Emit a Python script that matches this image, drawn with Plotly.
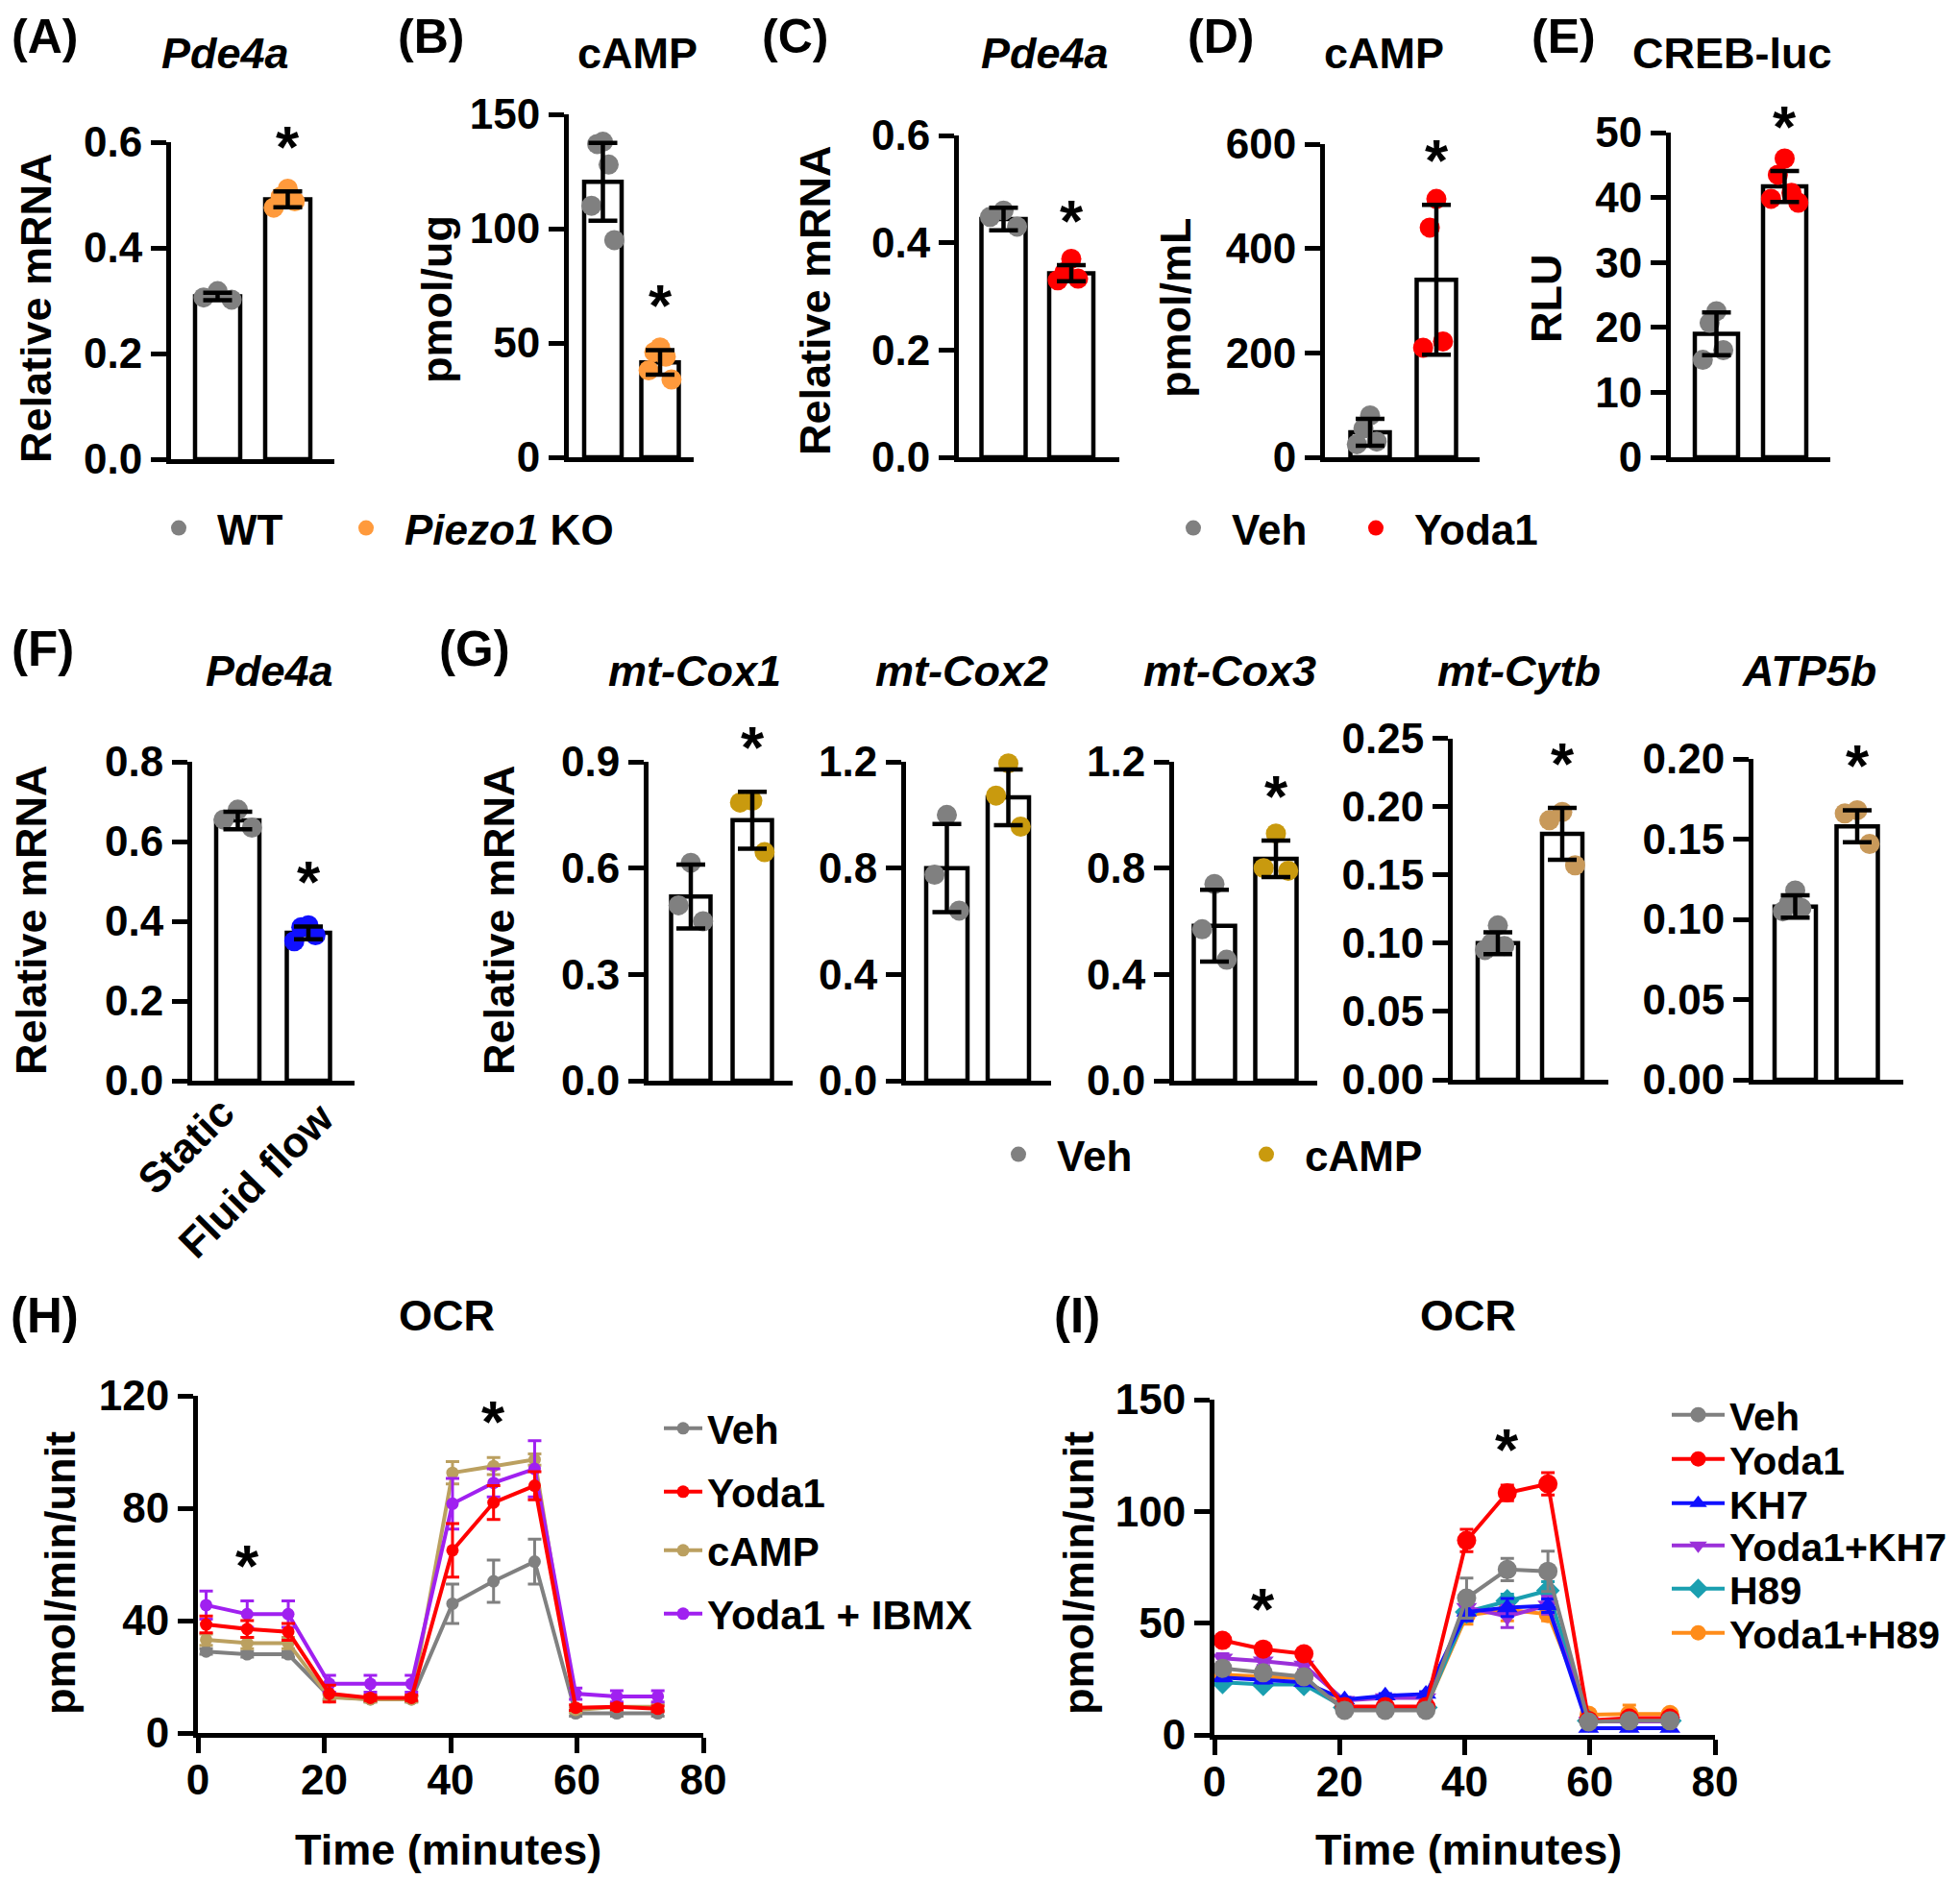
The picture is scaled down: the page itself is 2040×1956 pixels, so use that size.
import numpy as np
import plotly.graph_objects as go

W, H = 2040, 1956
FONT = "Liberation Sans"

# ===================== DATA =====================
# (A) Pde4a  WT vs Piezo1 KO
A_means = [0.308, 0.492]
A_sd = [0.007, 0.015]
A_wt = [0.318, 0.306, 0.302]
A_ko = [0.512, 0.497, 0.488, 0.476]
A_ticks = [0, 0.2, 0.4, 0.6]
# (B) cAMP  WT vs Piezo1 KO
B_means = [120.5, 41.5]
B_sd = [17.0, 5.4]
B_wt = [138, 137, 128, 110, 95]
B_ko = [48, 46, 44, 38, 34]
B_ticks = [0, 50, 100, 150]
# (C) Pde4a  Veh vs Yoda1
C_means = [0.444, 0.343]
C_sd = [0.021, 0.015]
C_veh = [0.46, 0.448, 0.43]
C_yoda = [0.37, 0.345, 0.333, 0.33]
C_ticks = [0, 0.2, 0.4, 0.6]
# (D) cAMP  Veh vs Yoda1
D_means = [48, 340]
D_sd = [25.7, 143.6]
D_veh = [80, 55, 30, 25]
D_yoda = [495, 440, 222, 210]
D_ticks = [0, 200, 400, 600]
# (E) CREB-luc  Veh vs Yoda1
E_means = [19.0, 41.7]
E_sd = [3.3, 2.4]
E_veh = [22.5, 20.7, 16.5, 15.0]
E_yoda = [46.0, 43.5, 40.7, 39.8, 39.2]
E_ticks = [0, 10, 20, 30, 40, 50]
# (F) Pde4a  Static vs Fluid flow
F_categories = ["Static", "Fluid flow"]
F_means = [0.653, 0.371]
F_sd = [0.022, 0.016]
F_static = [0.68, 0.655, 0.635]
F_flow = [0.39, 0.385, 0.365, 0.35]
F_ticks = [0, 0.2, 0.4, 0.6, 0.8]
# (G) Veh vs cAMP
G_genes = ["mt-Cox1", "mt-Cox2", "mt-Cox3", "mt-Cytb", "ATP5b"]
G_veh_means = [0.52, 0.80, 0.583, 0.100, 0.108]
G_veh_sd = [0.09, 0.166, 0.135, 0.008, 0.007]
G_camp_means = [0.735, 1.066, 0.835, 0.180, 0.158]
G_camp_sd = [0.08, 0.105, 0.069, 0.019, 0.010]
G_veh_pts = [[0.615, 0.495, 0.45], [1.0, 0.775, 0.64], [0.74, 0.57, 0.455],
             [0.113, 0.1, 0.098, 0.095], [0.118, 0.11, 0.107, 0.105]]
G_camp_pts = [[0.79, 0.785, 0.645], [1.194, 1.073, 0.956], [0.93, 0.8, 0.79],
              [0.196, 0.19, 0.157], [0.168, 0.166, 0.147]]
G_ticks = [[0, 0.3, 0.6, 0.9], [0, 0.4, 0.8, 1.2], [0, 0.4, 0.8, 1.2],
           [0, 0.05, 0.10, 0.15, 0.20, 0.25], [0, 0.05, 0.10, 0.15, 0.20]]
G_sig = [True, False, True, True, True]

# (H) OCR
time_min = [1.3, 7.8, 14.3, 20.8, 27.3, 33.8, 40.3, 46.8, 53.3, 59.8, 66.3, 72.8]
H_veh = [29, 28, 28, 13, 12, 12, 46, 54, 61, 7, 7, 7]
H_veh_err = [1, 1, 1, 1, 1, 1, 7, 7.5, 8, 1, 1, 1]
H_yoda = [38.6, 37, 36, 14, 12.5, 12.5, 65, 82, 88, 9, 9.3, 8.6]
H_yoda_err = [3, 3, 3, 3, 1, 1, 9.5, 6, 5, 1, 1, 1]
H_camp = [33.2, 32, 32, 12.7, 12, 12, 92.6, 95, 97.3, 8.2, 9.3, 9.3]
H_camp_err = [2, 2, 2, 1, 1, 1, 4, 3, 2, 1, 1, 1]
H_ibmx = [45.5, 42.3, 42.3, 17.5, 17.5, 17.5, 81.6, 89, 94, 14, 13, 13]
H_ibmx_err = [5, 4.7, 4.7, 3, 3, 3, 9, 5, 10, 2, 2, 2]
H_ticks_y = [0, 40, 80, 120]
# (I) OCR
I_veh = [29.8, 27.8, 26.0, 11.0, 11.0, 11.0, 61.2, 74, 73.2, 5.8, 6.3, 6.3]
I_veh_err = [2, 2, 2, 1, 1, 1, 9, 5, 9, 1, 1, 1]
I_yoda = [42.3, 38.4, 36.3, 12.7, 12.7, 12.7, 87, 108.3, 112.3, 6.5, 7.5, 7.5]
I_yoda_err = [2, 2, 2, 1, 1, 1, 5, 3.5, 5, 1, 1, 1]
I_kh7 = [25.7, 24.7, 23.5, 15.8, 17.5, 18.3, 55, 57, 57.8, 3, 3, 3]
I_kh7_err = [1.5, 1.5, 1.5, 1, 1, 1, 4, 4, 3, 1, 1, 1]
I_ykh7 = [34.3, 33.0, 31.2, 15.4, 16.6, 16.6, 57, 53, 58, 6, 6, 6]
I_ykh7_err = [2, 2, 2, 1, 1, 1, 5, 5, 4, 1, 1, 1]
I_h89 = [23.5, 22.6, 22.6, 12.3, 12.3, 12.3, 55, 60, 64.6, 6.3, 6.3, 6.3]
I_h89_err = [1.5, 1.5, 1.5, 1, 1, 1, 4, 3, 4, 1, 1, 1]
I_yh89 = [27, 26, 25.2, 12.3, 12.3, 12.3, 53.5, 56, 54, 9, 9.3, 9.3]
I_yh89_err = [1.5, 1.5, 1.5, 1, 1, 1, 4, 5, 3, 1, 4, 1]
I_ticks_y = [0, 50, 100, 150]
time_ticks = [0, 20, 40, 60, 80]

# ===================== STYLE =====================
GRAY = "#808080"
ORANGE = "#FF9A3C"
RED = "#FF0000"
BLUE = "#1010FF"
GOLD = "#C99A0E"
TAN = "#C8995A"
KHAKI = "#BBA060"
PURPLE_H = "#A020F0"
PURPLE_I = "#9B30D9"
TEAL = "#1A9FB0"
ORANGE_I = "#FF8C1A"

TICK_SIZE = 44
LAB_SIZE = 45
LW = 5
fig = go.Figure()
layout = dict(width=W, height=H, margin=dict(l=0, r=0, t=0, b=0, autoexpand=False),
              paper_bgcolor="white", plot_bgcolor="white", showlegend=True)
annotations = []
counters = {"ax": 0, "leg": 0}


def bfont(size, italic=False):
    d = dict(family=FONT, size=size, color="black", weight="bold")
    if italic:
        d["style"] = "italic"
    return d


def new_axes(xl, xr, yb, yt, xrange, yrange, ytickvals, yfmt, xtickvals=None, xticks=""):
    counters["ax"] += 1
    n = counters["ax"]
    s = "" if n == 1 else str(n)
    xa = dict(domain=[xl / W, xr / W], range=xrange, anchor="y" + s, showline=True,
              linecolor="black", linewidth=LW, showgrid=False, zeroline=False,
              ticks=xticks, ticklen=16, tickwidth=LW, tickcolor="black",
              tickfont=bfont(TICK_SIZE), fixedrange=True)
    if xtickvals is None:
        xa.update(showticklabels=False, tickvals=[])
    else:
        xa.update(tickvals=xtickvals, ticklabelstandoff=-10)
    ya = dict(domain=[1 - yb / H, 1 - yt / H], range=yrange, anchor="x" + s, showline=True,
              linecolor="black", linewidth=LW, showgrid=False, zeroline=False,
              ticks="outside", ticklen=16, tickwidth=LW, tickcolor="black",
              tickvals=ytickvals, tickformat=yfmt, tickfont=bfont(TICK_SIZE), fixedrange=True)
    layout["xaxis" + s] = xa
    layout["yaxis" + s] = ya
    return "x" + s, "y" + s


def new_legend(x_left, yc, size, itemwidth):
    counters["leg"] += 1
    n = counters["leg"]
    name = "legend" if n == 1 else "legend%d" % n
    layout[name] = dict(x=x_left / W, y=1 - yc / H, xanchor="left", yanchor="middle",
                        bgcolor="rgba(0,0,0,0)", borderwidth=0, itemwidth=itemwidth,
                        font=bfont(size), tracegroupgap=0)
    return name


def spread(n, h=0.2):
    k = np.arange(n)
    o = ((k + 1) // 2) * np.where(k % 2 == 1, -1, 1)
    m = max(1, np.abs(o).max())
    return o / m * h


def paper_text(text, x, y, size, italic=False, angle=0, yanchor="middle"):
    annotations.append(dict(text=text, x=x / W, y=1 - y / H, xref="paper", yref="paper",
                            xanchor="center", yanchor=yanchor, showarrow=False,
                            textangle=angle, font=bfont(size, italic)))


def bar_panel(geom, means, sds, pts, colors, yticks, fmt, star, names=None, legends=None):
    axis_x, xend, c0, c1, bw, base, top = geom
    s = c1 - c0
    xrange = [-(c0 - axis_x) / s, 1 + (xend - c1) / s]
    xa, ya = new_axes(axis_x, xend, base, top, xrange, [0, yticks[-1]], yticks, fmt)
    fig.add_trace(go.Bar(x=[0, 1], y=means, width=bw / s, xaxis=xa, yaxis=ya,
                         marker=dict(color="white", line=dict(color="black", width=4.5)),
                         showlegend=False, hoverinfo="skip"))
    for i in range(2):
        tr = dict(x=i + spread(len(pts[i])), y=pts[i], mode="markers", xaxis=xa, yaxis=ya,
                  marker=dict(size=21, color=colors[i]), cliponaxis=False, showlegend=False)
        if names is not None:
            tr.update(name=names[i], showlegend=True, legend=legends[i])
        fig.add_trace(go.Scatter(**tr))
    fig.add_trace(go.Scatter(x=[0, 1], y=means, mode="markers", xaxis=xa, yaxis=ya,
                             marker=dict(size=1, color="rgba(0,0,0,0)"), showlegend=False,
                             cliponaxis=False,
                             error_y=dict(type="data", array=sds, color="black",
                                          thickness=4.5, width=15)))
    if star:
        annotations.append(dict(text="*", x=1, y=means[1] + sds[1], xref=xa, yref=ya,
                                yanchor="bottom", yshift=10, showarrow=False, font=bfont(62)))
    return xa, ya


# ---------------- Row 1 ----------------
leg_wt = new_legend(138, 542, 44, 70)
leg_ko = new_legend(333, 542, 44, 70)
leg_veh = new_legend(1194, 542, 44, 70)
leg_yo = new_legend(1384, 542, 44, 70)

bar_panel((170, 340, 218.5, 291.5, 47, 470, 140), A_means, A_sd, [A_wt, A_ko], [GRAY, ORANGE],
          A_ticks, ".1f", True, names=["WT", "<i>Piezo1</i> KO"], legends=[leg_wt, leg_ko])
bar_panel((584, 714, 619.5, 679, 39, 468, 111), B_means, B_sd, [B_wt, B_ko], [GRAY, ORANGE],
          B_ticks, "d", True)
bar_panel((990, 1157, 1036.5, 1107, 46, 468, 133), C_means, C_sd, [C_veh, C_yoda], [GRAY, RED],
          C_ticks, ".1f", True, names=["Veh", "Yoda1"], legends=[leg_veh, leg_yo])
bar_panel((1371, 1532, 1418, 1487, 41, 468, 142), D_means, D_sd, [D_veh, D_yoda], [GRAY, RED],
          D_ticks, "d", True)
bar_panel((1731, 1897, 1778.5, 1849.5, 45, 468, 130), E_means, E_sd, [E_veh, E_yoda], [GRAY, RED],
          E_ticks, "d", True)

# ---------------- Row 2 ----------------
bar_panel((192, 361, 239.5, 313, 45, 1117, 785), F_means, F_sd, [F_static, F_flow], [GRAY, BLUE],
          F_ticks, ".1f", True)
# rotated category labels of (F)
for cat, (cx, cy) in zip(F_categories, [(185, 1184), (258, 1220)]):
    paper_text(cat, cx, cy, TICK_SIZE, angle=-45)

leg_gv = new_legend(1012, 1194, 44, 70)
leg_gc = new_legend(1270, 1194, 44, 70)
G_geom = [(667, 817, 711, 775, 41, 1117, 785),
          (935, 1086, 977.5, 1041.5, 43, 1117, 785),
          (1214, 1363, 1256, 1320, 43, 1117, 785),
          (1504, 1666, 1551, 1618, 42, 1116, 760.5),
          (1817, 1973, 1860.5, 1925, 43, 1116, 782)]
G_fmt = [".1f", ".1f", ".1f", ".2f", ".2f"]
G_col = [GOLD, GOLD, GOLD, TAN, TAN]
for g in range(5):
    kw = {}
    if g == 0:
        kw = dict(names=["Veh", "cAMP"], legends=[leg_gv, leg_gc])
    bar_panel(G_geom[g], [G_veh_means[g], G_camp_means[g]], [G_veh_sd[g], G_camp_sd[g]],
              [G_veh_pts[g], G_camp_pts[g]], [GRAY, G_col[g]], G_ticks[g], G_fmt[g], G_sig[g], **kw)


# ---------------- Row 3 : OCR ----------------
def ocr_panel(geom, yticks, series, leg_x, leg_ys, itemwidth, lsize):
    xl, xr, yb, yt = geom
    xa, ya = new_axes(xl, xr, yb, yt, [0, 80], [0, yticks[-1]], yticks, "d",
                      xtickvals=time_ticks, xticks="outside")
    legs = {}
    for (name, vals, errs, col, sym, msize, lorder) in series:
        legs[name] = new_legend(leg_x, leg_ys[lorder], lsize, itemwidth)
    for (name, vals, errs, col, sym, msize, lorder) in series:
        fig.add_trace(go.Scatter(x=time_min, y=vals, mode="lines+markers", name=name,
                                 legend=legs[name], xaxis=xa, yaxis=ya, cliponaxis=False,
                                 line=dict(color=col, width=4),
                                 marker=dict(color=col, size=msize, symbol=sym),
                                 error_y=dict(type="data", array=errs, color=col,
                                              thickness=3, width=7)))
    # significance stars over basal (index 1) and maximal (index 7) phases
    for idx in (1, 7):
        top = max(s[1][idx] + s[2][idx] for s in series)
        annotations.append(dict(text="*", x=time_min[idx], y=top, xref=xa, yref=ya,
                                yanchor="bottom", yshift=1, showarrow=False, font=bfont(62)))
    return xa, ya


ocr_panel((198, 724, 1796, 1445), H_ticks_y,
          [("Veh", H_veh, H_veh_err, GRAY, "circle", 13, 0),
           ("cAMP", H_camp, H_camp_err, KHAKI, "circle", 13, 2),
           ("Yoda1 + IBMX", H_ibmx, H_ibmx_err, PURPLE_H, "circle", 13, 3),
           ("Yoda1", H_yoda, H_yoda_err, RED, "circle", 13, 1)],
          678, [1479, 1545, 1606, 1672], 40, 42)

ocr_panel((1256, 1777, 1798, 1449), I_ticks_y,
          [("Yoda1+H89", I_yh89, I_yh89_err, ORANGE_I, "circle", 19, 5),
           ("H89", I_h89, I_h89_err, TEAL, "diamond", 19, 4),
           ("Yoda1+KH7", I_ykh7, I_ykh7_err, PURPLE_I, "triangle-down", 19, 3),
           ("KH7", I_kh7, I_kh7_err, BLUE, "triangle-up", 19, 2),
           ("Yoda1", I_yoda, I_yoda_err, RED, "circle", 20, 1),
           ("Veh", I_veh, I_veh_err, GRAY, "circle", 20, 0)],
          1727, [1465, 1511, 1557, 1601, 1646, 1692], 55, 41)

# ---------------- Text: panel letters, titles, axis labels ----------------
for t, x in [("(A)", 38), ("(B)", 440), ("(C)", 819), ("(D)", 1262), ("(E)", 1619)]:
    paper_text(t, x, 0, 50, yanchor="top")
for t, x, y in [("(F)", 36, 667), ("(G)", 486, 667), ("(H)", 38, 1361), ("(I)", 1113, 1361)]:
    paper_text(t, x, y, 51)

for t, x, y, it in [("Pde4a", 226, 47, True), ("cAMP", 655, 47, False), ("Pde4a", 1079, 47, True),
                    ("cAMP", 1432, 47, False), ("CREB-luc", 1795, 47, False),
                    ("Pde4a", 272, 691, True), ("OCR", 457, 1361, False), ("OCR", 1520, 1361, False)]:
    paper_text(t, x, y, LAB_SIZE, italic=it)
for g, x in zip(G_genes, [715, 993, 1272, 1573, 1875]):
    paper_text(g, x, 691, LAB_SIZE, italic=True)

for t, x, y in [("Relative mRNA", 29, 313), ("pmol/ug", 446, 304), ("Relative mRNA", 840, 305),
                ("pmol/mL", 1216, 312), ("RLU", 1601, 303), ("Relative mRNA", 24, 950),
                ("Relative mRNA", 511, 950), ("pmol/min/unit", 54, 1630),
                ("pmol/min/unit", 1114, 1630)]:
    paper_text(t, x, y, LAB_SIZE, angle=-90)
paper_text("Time (minutes)", 458, 1917, LAB_SIZE)
paper_text("Time (minutes)", 1520, 1917, LAB_SIZE)

layout["annotations"] = annotations
fig.update_layout(**layout)
fig.write_html("out.html")
